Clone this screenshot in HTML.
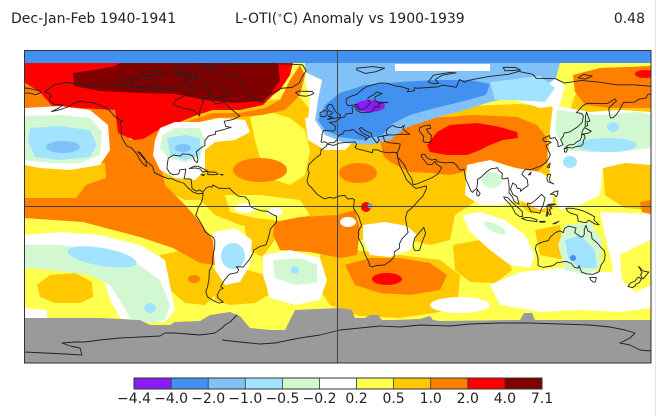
<!DOCTYPE html>
<html><head><meta charset="utf-8"><style>
html,body{margin:0;padding:0;background:#fff;}
svg{display:block;}
text{font-family:"DejaVu Sans","Liberation Sans",sans-serif;fill:#222;}
</style></head><body>
<svg width="660" height="416" viewBox="0 0 660 416" xmlns="http://www.w3.org/2000/svg">
<defs><clipPath id="m"><rect x="24" y="50" width="627" height="313"/></clipPath></defs>
<rect width="660" height="416" fill="#fff"/>
<text x="11" y="23" font-size="14">Dec-Jan-Feb 1940-1941</text>
<text x="235" y="23" font-size="14">L-OTI(<tspan font-size="9" dy="-5">∘</tspan><tspan dy="5">C) Anomaly vs 1900-1939</tspan></text>
<text x="645" y="23" font-size="14" text-anchor="end">0.48</text>

<g clip-path="url(#m)" stroke-linejoin="round">
<rect x="24" y="50" width="627" height="313" fill="#ffff4d"/>
<!-- GOLD -->
<g fill="#ffc800">
<polygon points="140,120 175,112 200,110 240,108 272,100 300,97 310,110 312,140 330,148 350,140 375,135 395,132 400,160 405,190 410,215 400,232 380,240 330,240 300,238 275,230 240,225 215,215 200,200 185,200 165,190 150,175 145,150"/>
<polygon points="340,140 380,125 420,112 470,106 520,104 560,108 575,120 560,140 555,165 545,180 520,182 490,192 470,205 455,215 450,240 430,245 410,240 400,215 395,180 385,160 360,160"/>
<polygon points="575,95 651,68 651,112 620,110 590,115 570,110"/>
<polygon points="603,168 625,163 651,160 651,210 625,208 605,195"/>
<polygon points="523,195 545,190 555,200 550,212 530,213 520,205"/>
<polygon points="453,245 480,240 505,250 512,270 495,283 470,282 455,270"/>
<polygon points="320,255 345,248 370,252 400,255 440,260 460,275 458,300 440,312 400,318 360,316 330,305 320,290"/>
<polygon points="160,255 185,250 205,255 215,270 215,295 205,305 185,303 170,290 163,270"/>
<polygon points="215,270 240,268 265,275 268,295 255,303 230,305 215,300"/>
<polygon points="245,210 262,205 277,215 275,240 262,257 250,250 245,230"/>
<polygon points="535,230 560,225 565,260 540,255"/>
<polygon points="37,285 50,275 75,273 92,282 93,297 80,303 55,303 40,297"/>
</g>
<g fill="#ffff4d">
<polygon points="250,117 270,112 290,118 305,130 310,150 305,175 290,185 275,180 262,165 255,140"/>
<polygon points="225,195 260,195 300,200 310,215 290,222 255,218 230,212"/>
</g>
<!-- ORANGE -->
<g fill="#ff8000">
<polygon points="24,78 60,100 100,98 120,115 130,140 148,135 160,123 165,140 160,160 165,185 185,205 200,222 213,240 215,265 200,263 173,248 140,237 83,222 24,218"/>
<polygon points="130,140 143,134 163,129 180,124 197,118 213,113 240,113 265,108 280,100 290,80 300,65 305,75 300,95 285,110 262,115 240,117 215,118 200,122 180,128 165,135 148,142"/>
<ellipse cx="260" cy="170" rx="27" ry="12"/>
<ellipse cx="358" cy="173" rx="19" ry="10"/>
<polygon points="380,140 390,128 410,122 430,118 473,115 517,117 537,125 547,138 547,162 537,172 517,168 493,162 477,162 463,172 450,175 433,173 410,172 390,162 383,155"/>
<polygon points="573,75 600,68 651,66 651,108 610,108 585,105 575,92"/>
<polygon points="275,222 300,217 337,215 355,210 360,230 357,255 340,258 310,252 280,250 273,235"/>
<polygon points="345,265 370,258 400,258 430,263 447,275 440,290 410,295 380,293 355,285"/>
<polygon points="640,202 651,200 651,214 642,212"/>
<ellipse cx="194" cy="279" rx="6" ry="4"/>
</g>
<g fill="#ffc800">
<polygon points="24,163 105,163 106,178 86,185 76,198 24,198"/>
</g>
<!-- RED -->
<g fill="#ff0000">
<polygon points="24,63 293,63 290,75 280,90 273,95 263,105 240,110 213,110 197,115 180,122 163,127 150,135 143,139 135,140 127,137 118,133 115,110 80,108 52,106 40,92 24,82"/>
<polygon points="427,145 437,132 450,125 477,123 500,127 517,132 518,138 503,140 490,145 480,150 467,155 447,155 430,152"/>
<ellipse cx="645" cy="74" rx="10" ry="4"/>
<ellipse cx="387" cy="279" rx="15" ry="6"/>
<ellipse cx="366" cy="207" rx="5" ry="5"/>
</g>
<polygon fill="#800000" points="120,63 278,63 280,80 270,95 262,101 235,103 205,100 175,94 140,93 100,91 74,86 73,73 100,69 115,66"/>
<!-- WHITE -->
<g fill="#ffffff">
<polygon points="24,108 60,106 90,110 108,125 110,150 100,165 70,170 40,168 24,165"/>
<polygon points="155,140 160,128 175,122 200,122 220,118 245,120 250,132 235,140 215,142 205,150 205,170 195,180 175,178 160,170 153,155"/>
<polygon points="308,63 350,63 345,80 335,90 325,100 320,120 325,140 312,142 308,120 310,100 305,80"/>
<polygon points="305,118 325,115 345,125 355,140 345,150 325,150 308,140"/>
<polygon points="510,75 545,72 565,85 560,105 540,108 515,100"/>
<polygon points="467,165 490,160 515,168 540,172 553,180 553,205 540,210 520,200 500,205 480,205 465,195"/>
<polygon points="553,105 590,112 620,110 651,112 651,165 625,163 603,168 600,195 580,205 560,210 553,190 548,160 550,130"/>
<polygon points="363,225 385,222 407,226 417,235 410,250 390,257 370,255 363,240"/>
<ellipse cx="348" cy="222" rx="8" ry="5"/>
<polygon points="462,215 480,212 505,220 525,235 535,255 530,268 510,265 490,250 470,232"/>
<polygon points="24,235 60,232 100,235 140,245 165,260 170,285 175,310 165,322 140,322 120,318 110,300 105,285 100,270 60,262 24,262"/>
<polygon points="24,308 47,310 47,318 24,318"/>
<polygon points="213,232 235,228 252,240 250,265 240,282 225,285 215,270"/>
<polygon points="263,255 290,250 320,258 327,280 320,300 295,305 270,298 263,275"/>
<ellipse cx="460" cy="305" rx="30" ry="8"/>
<polygon points="490,285 520,272 560,268 600,272 640,270 651,265 651,308 620,312 580,310 540,312 500,305"/>
<polygon points="600,212 651,214 651,300 630,300 615,280 610,255 605,235"/>
<ellipse cx="245" cy="208" rx="10" ry="5"/>
<ellipse cx="275" cy="212" rx="8" ry="4"/>
</g>
<polygon fill="#ffff4d" points="620,255 640,245 651,240 651,285 635,292 622,280"/>
<!-- PALE GREEN -->
<g fill="#d2f8d2">
<polygon points="24,116 60,115 90,118 102,132 100,155 80,163 50,163 24,160"/>
<polygon points="162,135 175,128 200,128 205,140 200,158 185,162 168,158 160,148"/>
<polygon points="557,110 600,115 640,112 651,115 651,148 620,152 590,152 565,150 555,130"/>
<ellipse cx="492" cy="180" rx="10" ry="8"/>
<polygon points="24,245 60,245 100,250 135,262 160,280 170,305 165,320 150,323 130,318 120,300 110,285 90,275 50,270 24,268"/>
<polygon points="273,260 300,258 317,265 317,283 295,285 275,278"/>
<polygon points="565,225 590,222 602,240 600,268 585,275 565,270 558,245"/>
<ellipse cx="495" cy="228" rx="12" ry="4" transform="rotate(25 495 228)"/>
</g>
<!-- LIGHT BLUE -->
<polygon fill="#82c0f8" points="305,63 560,63 556,78 540,90 515,97 490,102 465,110 435,118 405,128 390,140 370,145 345,143 325,135 315,120 318,100 322,80 305,72"/>
<!-- CYAN -->
<g fill="#a2e4ff">
<polygon points="30,128 60,126 90,130 97,145 90,157 60,160 35,157 28,142"/>
<polygon points="167,138 185,135 200,138 200,155 185,160 170,155"/>
<ellipse cx="102" cy="257" rx="35" ry="9" transform="rotate(10 102 257)"/>
<ellipse cx="233" cy="256" rx="12" ry="13"/>
<polygon points="565,240 580,235 595,250 597,268 580,268 568,258"/>
<ellipse cx="150" cy="308" rx="6" ry="5"/>
<circle cx="295" cy="270" r="4"/>
<ellipse cx="607" cy="145" rx="30" ry="7"/>
<ellipse cx="570" cy="162" rx="7" ry="6"/>
<ellipse cx="613" cy="127" rx="6" ry="5"/>
<polygon points="490,82 540,76 555,88 545,102 515,100 495,100"/>
</g>
<g fill="#82c0f8">
<ellipse cx="63" cy="147" rx="17" ry="6"/>
<ellipse cx="183" cy="148" rx="8" ry="4"/>
</g>
<polygon fill="#ffffff" points="395,64 490,64 490,71 395,71"/>
<!-- BLUE -->
<g fill="#4290f0">
<polygon points="318,120 325,105 340,93 365,85 400,82 435,80 470,80 490,84 486,95 460,102 435,108 410,115 392,124 382,135 362,140 340,137 325,130"/>
<circle cx="573" cy="258" r="3"/>
</g>
<ellipse cx="370" cy="106" rx="15" ry="6" fill="#8a1cf5"/>
<circle cx="370" cy="206" r="2.5" fill="#7fa0d0"/>
<!-- top band -->
<rect x="24" y="50" width="627" height="13" fill="#4290f0"/>
<!-- ANTARCTICA -->
<polygon fill="#9a9a9a" points="24,318 60,318 100,318 140,320 150,325 170,325 175,322 200,321 210,315 230,312 240,316 250,328 270,330 285,330 290,320 295,310 340,308 352,310 355,318 365,318 370,315 378,315 382,320 395,320 420,319 430,316 433,320 440,321 520,320 524,313 532,313 535,320 651,320 651,363 24,363"/>
<polyline fill="none" stroke="#222" stroke-width="0.9" points="24,352 45,353 65,354 82,355 80,348 70,346 62,343 75,342 85,342 100,340 120,338 140,337 160,336 165,333 175,333 200,335 215,333 222,328 225,325 230,322 235,317 237,315"/>
<polyline fill="none" stroke="#222" stroke-width="0.9" points="222,340 240,342 260,344 275,343 300,338 320,335 340,330 360,328 380,326 400,327 420,325 450,326 470,324 500,323 530,323 560,324 590,325 610,327 625,330 635,333 630,338 620,343 630,345 640,350 651,351"/>
<!-- COASTLINES (lon/lat) -->
<g transform="translate(337.5 206.5) scale(1.744 -1.739)" fill="none" stroke="#222" stroke-width="0.9">
<path vector-effect="non-scaling-stroke" d="M-168 66 L-162 70 -156 71.3 -141 69.6 -128 70 -115 68.5 -95 68 -85 69.5 -82 66 -87 64 -93 61 -94 58.5 -90 57 -82 55 -79 52 -79 55 -77 60 -78 62.5 -73 62 -70 59 -65 60 -61 56 -56 52 -60 50 -65 49 -64 46 -61 45.5 -66 44 -70 43 -70 41.5 -74 40.5 -76 38 -76 35 -78 34 -81 31.5 -80 27 -80.5 25.2 -82 26.5 -83 29 -85 30 -89 30.2 -90 29 -94 29.6 -97 27.8 -97.5 25 -97.8 22 -96 19 -94 18.2 -91 18.8 -90.5 21 -87 21.5 -87.5 18 -88 16 -84 15.8 -83.5 12 -83.5 10.5 -81 8.8 -79 9.5 -77.5 8.5 -77 7.5 -78 7.5 -80 7.3 -83 8.4 -86 11 -88 13.3 -92 14.6 -95 16 -97 16 -101 17.5 -105 19.5 -105.6 21.5 -106 23 -109.5 26 -112.5 29 -114.6 31.5 -113 31 -112 29.5 -110 27 -109.5 23 -110.3 23.5 -112 25 -114 28 -115 30 -117 32.5 -118.5 34 -120.6 34.6 -122.5 37.5 -124 40.5 -124 46 -124.7 48.4 -123 49 -125 50 -128 52 -130 54.5 -133 57 -137 58.5 -140 59.7 -144 60 -148 60.5 -152 59 -154 57.5 -158 56 -162 55 -164 54.6 -160 56.5 -157.5 58.5 -162 58.6 -165 60.5 -165 62.5 -164 64 -166.5 65.5 -168 66Z"/>
<path vector-effect="non-scaling-stroke" d="M-77 7.5 L-77.5 4 -78.5 1.5 -80 -1 -80.5 -3 -81.3 -5 -79.5 -7.5 -77 -12 -76 -14.5 -71 -18 -70.3 -20 -70.5 -24 -71.5 -29 -71.6 -33 -73.5 -37 -73.7 -42 -74.5 -46 -75.5 -49 -74.5 -52 -71.5 -54 -68 -55.5 -65.5 -55 -68.5 -52.5 -69 -51 -67.5 -48 -65.5 -47 -67 -46 -65 -42.5 -62 -39 -57.5 -38 -56.7 -36.4 -58 -34.6 -54 -34.8 -53 -33.5 -50.5 -30.5 -48.5 -27 -48 -25 -44.5 -23 -41 -22 -39.5 -17.5 -38.5 -13 -35 -9 -35 -5.5 -37.5 -4.5 -40 -2.8 -44 -2.4 -48 -1 -50 0 -51 3.5 -53 5.5 -57 6 -60 8.5 -62 10.6 -64 10.4 -68 10.5 -71.5 12.4 -72 11 -73.5 11.5 -75.5 10.5 -77 8.5"/>
<path vector-effect="non-scaling-stroke" d="M-17 21 L-16.5 24 -13 27.5 -9.7 30 -9.5 32.5 -6.5 34.5 -5.9 35.8 -2 35.1 1 36.5 10 37.2 11 35.5 10 34 11.5 33 15 32.3 20 30.9 20 32.5 23 32.6 25 31.6 29 30.9 32 31.2 34 31 34.5 28 35.5 24 37 21 38.5 18 39.5 15.5 42 13 43.4 11.5 45 10.4 51 11.8 51 10.4 49 6 47 4 43 -0.5 40 -3 39 -6.5 39.5 -10 40.5 -15 37 -18.5 35.5 -21.5 35.5 -24 32.6 -26 32.5 -29 30 -31.5 27 -33.6 22 -34 20 -34.8 18.5 -34.2 18 -32 15.5 -27 14.5 -23 12 -18 12 -14 13.8 -11 13 -8.5 12.3 -6 9.2 -1 9.5 2.5 9.7 4 8.5 4.6 6 4.3 4 6.4 1 6 -2 4.8 -4.5 5.2 -7.5 4.4 -11.5 6.8 -13.2 8.8 -15 11 -16.7 12.5 -17.5 14.7 -16.3 19.5 -17 21Z"/>
<path vector-effect="non-scaling-stroke" d="M44 -25 L43.3 -22 44.3 -18 46.5 -15.5 49.5 -12 50.5 -15.5 49.5 -18 48 -22 47 -25.2 45 -25.5Z"/>
<path vector-effect="non-scaling-stroke" d="M-9.5 37 L-9 39 -8.8 42 -8 43.7 -2 43.4 -1.3 44.5 -1.2 46 -2.5 47.3 -4.7 48.4 -1.6 48.7 0 49.5 1.6 50.9 4 51.5 5 53.3 8.5 53.6 8.6 55.5 8.2 57 10.5 57.7 10.5 56 12.5 54.4 14.5 53.9 19.5 54.4 21 56 21.5 57.5 24 57.2 23.5 59.2 29 59.9 23 60 21.4 60.7 21.5 63 25.5 65 22.5 65.9 21 64.5 17.5 62.5 17.5 61 18.9 59.6 16.5 57 14.5 56 12.8 55.5 11 58.8 9 58.3 6 58 5 59.4 5 61.9 8 63.5 11 64.5 14.5 67.5 17 69 20.5 70 24 71 28 71 31 70 33 69.3 36 69 41 67.5 40 66 44 66.5 44 68.3 46 68 53 68.5 58 68.8 60 69.8 66 69 68 68.5 70 73 73 71.5 75 72.5 80 73.5 87 74.8 98 76 104 77.7 112 76 114 73.7 125 73.5 130 71 140 72.5 150 71.5 160 70 170 70 181 69"/>
<path vector-effect="non-scaling-stroke" d="M181 65 L178 64.5 177 62.5 173 61.7 170 60 164 59.8 163 58 162 56 160 53 158 51 156.5 51 156 53 155.5 56.5 157 58 160 60.8 159 61.8 155 59.3 152 59.1 148 59.3 143 59.3 140.5 57.8 137 54 140 53.5 141 52 140.3 48.5 138 46 133 42.8 130 42.3 129.5 40.5 128 38.5 129.3 35.5 126.5 34.4 126.3 37 124.7 39.7 122 39 121.5 40.8 118 39.2 117.7 38.4 119 37.2 121 37.5 122.5 36.9 119.5 35 121 32 122 30 121.5 28.2 119.5 25.3 117 23.5 113.5 22.2 110.5 21 108 21.5 106.5 20 105.7 18.5 108.8 15.5 109.3 12 107 10.5 105 8.7 104.8 10.3 103 10.5 102.5 12.2 100.5 13.5 99.2 10 100.5 7 103 5.5 104.2 1.3 103.5 1.5 101.3 2.8 100.3 5.5 98.3 8 98.5 10.5 98.2 13.5 97.7 16.5 95.3 15.8 94.3 16.2 94.5 19 92.3 20.7 91.8 22.3 90 21.9 88.5 21.8 86.9 21 85 19.5 82.5 17 80.2 15.5 80.3 13.5 79.8 10.3 78 8.9 77.5 8.1 76.5 8.9 75 12.5 73.5 16 72.8 19.5 72.6 21.5 70.5 20.8 69 22.5 68.5 23.5 66.5 25.3 61.5 25.1 57.3 25.8 56.4 27.2 54 26.7 51.5 27.9 50 30 48.5 30 47.9 29.5 48.8 27.6 50.1 26.1 51.6 24.2 54 24.1 56 26 56.5 24.5 59.8 22.4 57.8 19 55 17 52 15.6 45 12.8 43.3 12.7 42.7 15.7 40 20 38.5 23.7 35 28 34.4 28 34.3 31.2 35.5 33.5 36 36 33 36.3 29.5 36.7 27 37.5 26.5 39.5 26 40.7 28.9 41 28 42 28 43.8 29.6 45.3 31.5 46.6 33.5 45.7 36.5 45.3 38.3 46.8 37.5 44.5 41.5 41.5 36 41.6 32 41.1 29.3 41.2 26.2 40.5 23 40 24 38 22.5 36.5 21 38.5 19.5 40.5 19.5 42 16 43.5 13.7 45.5 12.4 44.8 14 42.5 16 41.4 18.5 40.2 16.5 38.5 15.7 38 16.5 39.5 15.5 40.2 12 41.9 10.5 43 8.8 44.4 7 43.6 4 43.5 3 42.3 3.2 41.8 0.8 41 0 39.5 -0.3 38.2 -1.3 37.5 -2 36.7 -4.5 36.7 -5.6 36 -6.3 36.8 -7.5 37.2 -8.9 37 -9.5 37"/>
<path vector-effect="non-scaling-stroke" d="M-181 68.5 L-175 67.5 -171 66.5 -170 65.5 -173 64.3 -177 65.3 -181 65"/>
<path vector-effect="non-scaling-stroke" d="M47 45.3 L50 46.5 53 46.8 53.5 45 51 44.5 52.5 42 54 40.8 53.5 39.3 53.8 37.3 51 36.7 49 37.5 49.5 40.2 48 42 47 43.5Z"/>
<path vector-effect="non-scaling-stroke" d="M-5.7 50 L-3 50.6 1.3 51.2 1.7 52.7 0 53.5 -1.5 55 -2 56 -3.3 58.6 -5 58.6 -6.2 56.5 -5 55 -3 54.3 -3 53.3 -4.5 52.8 -5.2 51.7 -3 51.4Z M-6 52.2 L-6 53.9 -5.6 54.6 -7.5 55.3 -8.5 54.5 -10 54 -10 52 -8.5 51.5Z M-24 65.5 L-22 66.4 -18 66.2 -14.5 66.2 -13.6 65 -15 64.3 -18 63.4 -22 63.8Z"/>
<path vector-effect="non-scaling-stroke" d="M-73 78 L-66 80.5 -60 81.8 -45 82 -30 82 -20 81.5 -18 78 -20 75 -22 71 -26 68.5 -32 68 -37 65.5 -41 63 -43 60 -46 60.8 -49 62 -51 64 -53 66.5 -54 70 -55 72.5 -58 75.5 -66 76Z"/>
<path vector-effect="non-scaling-stroke" d="M-61.9 66.9 L-65 62.9 -68 62.5 -71.5 63.5 -74 65 -73.5 67 -77 68 -80 69.8 -85 70.5 -89 72.5 -84 73.8 -77 72.8 -70 70.5 -67 69.3 -64 67.5Z M-118 69 L-107 68.5 -101 68.5 -103 70.5 -104.5 73 -112 73 -118 72.5Z M-125 71.9 L-120 71.5 -116 73.5 -120 74.3 -125 74Z M-80 74.5 L-90 74.6 -93 76.2 -82 76.5Z M-80 76.5 L-90 77 -95 78.5 -90 80.5 -78 82 -70 81 -75 79Z M-110 75 L-100 75.5 -98 77 -105 78 -113 77Z"/>
<path vector-effect="non-scaling-stroke" d="M11 78.5 L16 76.5 22 77.5 27 79.5 20 80.5 11 79.5Z M52 71.5 L55 70.6 58 70.7 56 73 60 75.5 68 76.9 64 77 55 75.5Z M96 78 L105 78.5 102 80 95 80Z M138 74 L142 73.2 146 75 141 76Z"/>
<path vector-effect="non-scaling-stroke" d="M130.9 34 L132.5 35.4 135.5 35.6 137 37 139 38 140 40 140 41.3 141.5 41.3 142 39.5 141 38 140.8 36 140 35 138.5 34.7 136.8 34.5 135 33.7 133 33.8Z M130 33.5 L131.8 33.2 131.3 31.3 130.2 31.3Z M140 41.5 L140.4 43.3 141.6 45.4 145.5 43.3 143.3 42 141 41.7Z M142 46 L143.5 46.5 143 49 144.7 49 142.8 54.3 142.2 51.8Z M120.2 22.7 L121.9 25 121.5 22.3Z M120.5 18.5 L122.2 18.5 121.5 16 122 14 124 13 120.6 14.3 120 16Z M122 7 L124 8.3 126.5 9 126 6.5 125.5 5.6 124 7Z M79.8 8 L80.2 9.8 81.8 7.5 81 6 80 6.3Z M109.5 18.2 L111 19.8 110.5 18.2Z"/>
<path vector-effect="non-scaling-stroke" d="M109 2 L110.5 1.5 113 3.2 115.5 5.5 117 7 119 5 118 1 117.5 0 116.5 -2.5 116 -4 114.5 -3.5 111 -3 110 -1 109 0.5Z M95.3 5.5 L97.5 5.2 100.5 2 104 -1 106 -3 106 -5.8 104.5 -5.8 102 -4 100.5 -1 98.5 1.8 96 4.2Z M105.5 -6.8 L108 -6.3 111 -6.5 114.5 -7.7 114.4 -8.7 111 -8.2 108 -7.8Z M119.5 -5.5 L120.5 -2 120 0.5 121 1.3 124.5 1.5 125 1.2 121 0.5 123 -1 121.5 -1.8 122.5 -4.5 121.5 -4.8 120.5 -2.8 120.4 -5.5Z M131 -1 L134 -1 138 -1.7 141 -2.6 145 -4.5 147.5 -6 147 -7.8 150 -10.5 147.5 -10 144 -7.8 142.5 -9.3 141 -9.1 138 -8.4 137.5 -5 134 -4 132 -2.8Z M116 -8.5 L119 -8.5 119 -9 116 -9Z M123.5 -10 L127 -8.5 125 -9.8Z"/>
<path vector-effect="non-scaling-stroke" d="M114 -22 L113.5 -24.5 115 -29.5 115 -34 118 -35 123.5 -34 126 -32.3 131 -31.5 134 -32.7 136 -35 138 -35.5 138.5 -34 140 -37.8 143 -38.8 146.5 -39 150 -37.5 151 -34 153 -31 153.5 -28 153 -25.5 151 -23.5 149 -21 146 -18.5 145.5 -15 143.5 -14 142.5 -10.8 141.5 -13 141.5 -16 140.7 -17.5 139.5 -17.5 136 -15 136.8 -12.3 132.5 -11.3 130.2 -12.6 129.5 -15 127.5 -14 125 -15 122 -17.5 121 -19.5 117 -20.6Z M144.6 -40.7 L148.3 -40.9 148 -43.2 146.9 -43.6 145.2 -42.2Z"/>
<path vector-effect="non-scaling-stroke" d="M172.7 -34.4 L174.5 -36.5 175.9 -37.3 178.5 -37.7 177 -39.5 175.2 -41.6 174.6 -41.2 173.8 -39.2 174.6 -38Z M172.7 -40.5 L174.2 -41.7 173 -43.8 171.2 -44.5 170.5 -45.9 169 -46.6 166.5 -46 168 -44 170.5 -42.9 172 -41Z"/>
<path vector-effect="non-scaling-stroke" d="M-85 21.8 L-82 23.2 -80 23.1 -77 21.8 -74.2 20.2 -77.5 19.9 -78.5 21.5 -81.5 22.2Z M-74.4 19.8 L-72.8 19.9 -70 19.7 -68.4 18.6 -71 18.2 -74.4 18.4Z M-78.3 18.4 L-76.2 18.2 -77 17.8Z M-67.2 18.5 L-65.6 18.3 -66 18Z"/>
</g>
<!-- grid lines -->
<line x1="337.5" y1="50" x2="337.5" y2="363" stroke="#444" stroke-width="1"/>
<line x1="24" y1="206.5" x2="651" y2="206.5" stroke="#444" stroke-width="1"/>
</g>
<rect x="24.5" y="50.5" width="626.5" height="312.5" fill="none" stroke="#333" stroke-width="1"/>
<line x1="655.5" y1="0" x2="655.5" y2="416" stroke="#e6e6e6" stroke-width="1"/>

<!-- COLORBAR -->
<g stroke="none">
<rect x="134" y="378" width="37.09" height="11" fill="#8a1cf5"/>
<rect x="171.09" y="378" width="37.09" height="11" fill="#4290f0"/>
<rect x="208.18" y="378" width="37.09" height="11" fill="#82c0f8"/>
<rect x="245.27" y="378" width="37.09" height="11" fill="#a2e4ff"/>
<rect x="282.36" y="378" width="37.09" height="11" fill="#d2f8d2"/>
<rect x="319.45" y="378" width="37.09" height="11" fill="#ffffff"/>
<rect x="356.54" y="378" width="37.09" height="11" fill="#ffff4d"/>
<rect x="393.63" y="378" width="37.09" height="11" fill="#ffc800"/>
<rect x="430.72" y="378" width="37.09" height="11" fill="#ff8000"/>
<rect x="467.81" y="378" width="37.09" height="11" fill="#ff0000"/>
<rect x="504.9" y="378" width="37.1" height="11" fill="#800000"/>
</g>
<g stroke="#333" stroke-width="0.8">
<line x1="171.09" y1="378" x2="171.09" y2="389"/>
<line x1="208.18" y1="378" x2="208.18" y2="389"/>
<line x1="245.27" y1="378" x2="245.27" y2="389"/>
<line x1="282.36" y1="378" x2="282.36" y2="389"/>
<line x1="319.45" y1="378" x2="319.45" y2="389"/>
<line x1="356.54" y1="378" x2="356.54" y2="389"/>
<line x1="393.63" y1="378" x2="393.63" y2="389"/>
<line x1="430.72" y1="378" x2="430.72" y2="389"/>
<line x1="467.81" y1="378" x2="467.81" y2="389"/>
<line x1="504.9" y1="378" x2="504.9" y2="389"/>
</g>
<rect x="134" y="378" width="408" height="11" fill="none" stroke="#333" stroke-width="1"/>
<g font-size="14" text-anchor="middle">
<text x="134" y="403">−4.4</text>
<text x="171.1" y="403">−4.0</text>
<text x="208.2" y="403">−2.0</text>
<text x="245.3" y="403">−1.0</text>
<text x="282.4" y="403">−0.5</text>
<text x="319.5" y="403">−0.2</text>
<text x="356.5" y="403">0.2</text>
<text x="393.6" y="403">0.5</text>
<text x="430.7" y="403">1.0</text>
<text x="467.8" y="403">2.0</text>
<text x="504.9" y="403">4.0</text>
<text x="542" y="403">7.1</text>
</g>
</svg>
</body></html>
